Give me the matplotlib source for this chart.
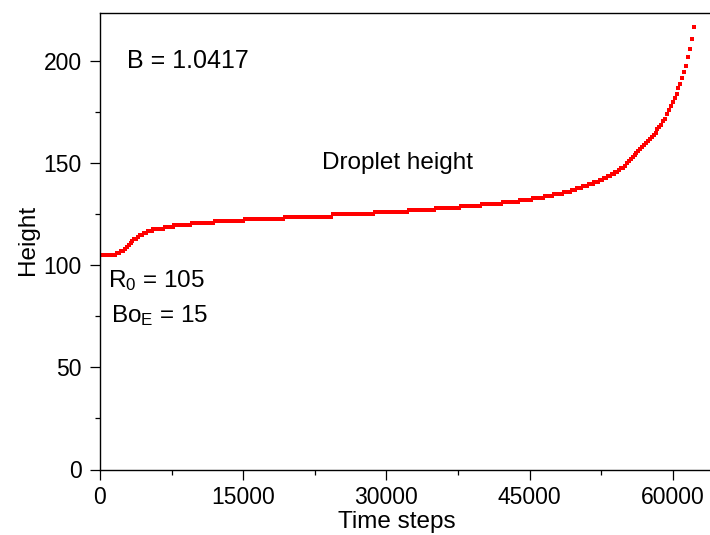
import numpy as np
import matplotlib
matplotlib.use("Agg")
import matplotlib.pyplot as plt
from matplotlib.ticker import MultipleLocator

plt.rcParams["font.family"] = ["Liberation Sans", "DejaVu Sans"]
plt.rcParams["mathtext.fontset"] = "custom"
plt.rcParams["mathtext.rm"] = "Liberation Sans"
plt.rcParams["mathtext.it"] = "Liberation Sans"

# droplet height, one reading every 200 time steps (0 .. 62200)
sample_step = 200
height = [
    105, 105, 105, 105, 105, 105, 105, 105, 105,
    106, 106, 107, 107, 108, 109, 110, 111, 112, 113, 113,
    114, 115, 115, 116, 116, 117, 117, 117,
    118, 118, 118, 118, 118, 118,
    119, 119, 119, 119, 119,
    120, 120, 120, 120, 120, 120, 120, 120, 120,
    121, 121, 121, 121, 121, 121, 121, 121, 121, 121, 121, 121,
    122, 122, 122, 122, 122, 122, 122, 122, 122, 122, 122, 122, 122, 122, 122, 122,
    123, 123, 123, 123, 123, 123, 123, 123, 123, 123, 123, 123, 123, 123, 123, 123,
    123, 123, 123, 123, 123,
    124, 124, 124, 124, 124, 124, 124, 124, 124, 124, 124, 124, 124, 124, 124, 124,
    124, 124, 124, 124, 124, 124, 124, 124, 124,
    125, 125, 125, 125, 125, 125, 125, 125, 125, 125, 125, 125, 125, 125, 125, 125,
    125, 125, 125, 125, 125, 125,
    126, 126, 126, 126, 126, 126, 126, 126, 126, 126, 126, 126, 126, 126, 126, 126,
    126, 126,
    127, 127, 127, 127, 127, 127, 127, 127, 127, 127, 127, 127, 127, 127,
    128, 128, 128, 128, 128, 128, 128, 128, 128, 128, 128, 128, 128,
    129, 129, 129, 129, 129, 129, 129, 129, 129, 129, 129,
    130, 130, 130, 130, 130, 130, 130, 130, 130, 130, 130,
    131, 131, 131, 131, 131, 131, 131, 131, 131,
    132, 132, 132, 132, 132, 132, 132,
    133, 133, 133, 133, 133, 133,
    134, 134, 134, 134, 134,
    135, 135, 135, 135, 135,
    136, 136, 136, 136,
    137, 137, 137, 138, 138, 138, 139, 139, 139, 140, 140, 140, 141, 141, 141,
    142, 142, 143, 143, 144, 144, 145, 145, 146, 146, 147, 148,
    148, 149, 150, 151, 152, 153, 154, 155, 156, 157, 158, 159,
    160, 161, 162, 163, 164, 165, 167, 168, 169, 171, 172, 174, 176, 178,
    180, 182, 184, 187, 189, 192, 195, 198, 202, 206, 211, 217,
]
time_steps = np.arange(len(height)) * sample_step

x_ticks = [0, 15000, 30000, 45000, 60000]
y_ticks = [0, 50, 100, 150, 200]

fig = plt.figure(figsize=(7.1, 5.35), dpi=100)
ax = fig.add_axes([100 / 710, 65.5 / 535, 609 / 710, 456.2 / 535])

ax.plot(time_steps, height, ls="none", marker="s", ms=2.2, mew=0,
        color="#ff0000")

ax.set_xlim(0, 63800)
ax.set_ylim(0, 223.6)
ax.set_xticks(x_ticks)
ax.set_yticks(y_ticks)
ax.xaxis.set_minor_locator(MultipleLocator(7500))
ax.yaxis.set_minor_locator(MultipleLocator(25))
ax.tick_params(which="major", direction="out", length=7.2, width=0.9,
               labelsize=16.5, pad=5)
ax.tick_params(which="minor", direction="out", length=3.6, width=0.9)
ax.tick_params(axis="y", which="major", pad=6)
ax.spines["right"].set_visible(False)
for s in ("left", "bottom", "top"):
    ax.spines[s].set_linewidth(1.0)

ax.text(0.0443, 0.8795, "B = 1.0417", transform=ax.transAxes,
        fontsize=18, va="baseline", ha="left")
ax.text(0.3645, 0.6587, "Droplet height", transform=ax.transAxes,
        fontsize=17.5, va="baseline", ha="left")
ax.text(0.0131, 0.3994, r"R$_0$ = 105", transform=ax.transAxes,
        fontsize=17.5, va="baseline", ha="left")
ax.text(0.0176, 0.324, r"Bo$_\mathrm{E}$ = 15", transform=ax.transAxes,
        fontsize=17.5, va="baseline", ha="left")

fig.text(397 / 710, 1 - 528 / 535, "Time steps", fontsize=17.5,
         ha="center", va="baseline")
fig.text(28 / 710, 1 - 240 / 535, "Height", fontsize=17.5, rotation=90,
         ha="center", va="center")

fig.savefig("out.png", dpi=100)
